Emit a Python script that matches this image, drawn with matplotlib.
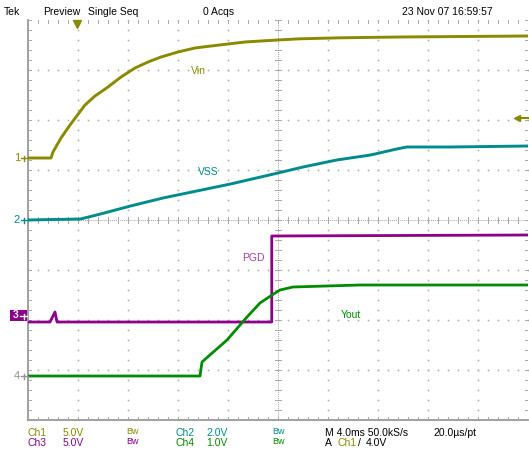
import matplotlib
matplotlib.use("Agg")
import matplotlib.pyplot as plt
from matplotlib.patches import Rectangle
import numpy as np

plt.rcParams['font.family'] = ['Liberation Sans Narrow', 'Liberation Sans', 'DejaVu Sans']

W, H = 529, 451

# screen: 10 div x 4 ms, 8 div vertical
MS_PER_DIV = 4.0

# channel settings (volts/div, ground position in div)
ch_scale = {1: 5.0, 2: 2.0, 3: 5.0, 4: 1.0}
ch_offset = {1: 1.24, 2: 0.0, 3: -2.04, 4: -3.12}
ch_color = {1: "#8a8a00", 2: "#008c8c", 3: "#8c008c", 4: "#008c00"}

# Ch1 - Vin
vin_t = [0, 1.84, 2.0, 2.64, 3.36, 3.84, 4.56, 5.36, 6.4, 7.44, 8.56, 9.6, 10.64,
         12.0, 13.36, 14.64, 16.0, 17.36, 18.64, 20.24, 21.76, 25.0, 29.76, 40.0]
vin_v = [0, 0, 0.6, 2.0, 3.3, 4.1, 5.3, 6.2, 7.1, 8.1, 9.0, 9.6, 10.1,
         10.6, 11.0, 11.2, 11.4, 11.6, 11.7, 11.82, 11.92, 12.02, 12.1, 12.2]

# Ch2 - VSS
vss_t = [0, 4.2, 5.8, 8.2, 10.8, 13.5, 16.2, 20.0, 22.0, 24.7, 27.4, 29.5, 30.3, 33.8, 40.0]
vss_v = [0, 0.04, 0.24, 0.56, 0.88, 1.16, 1.44, 1.88, 2.12, 2.4, 2.6, 2.84, 2.92, 2.92, 2.96]

# Ch3 - PGD
pgd_t = [0, 1.76, 2.16, 2.32, 19.5, 19.5, 40.0]
pgd_v = [0, 0, 1.0, 0, 0, 8.6, 8.7]

# Ch4 - Yout
yout_t = [0, 13.76, 13.92, 15.92, 17.52, 18.56, 19.52, 20.16, 21.2, 26.56, 40.0]
yout_v = [0, 0, 0.28, 0.72, 1.18, 1.46, 1.62, 1.72, 1.78, 1.82, 1.82]

trig_t = 3.92
trig_level = 4.0


def to_div(ch, volts):
    return ch_offset[ch] + np.asarray(volts) / ch_scale[ch]


fig = plt.figure(figsize=(W / 100, H / 100), dpi=100)
ax = fig.add_axes([28 / W, (H - 420) / H, 500 / W, 400 / H])
ax.set_xlim(0, 40)
ax.set_ylim(-4, 4)
ax.axis("off")

grid_c = "#a8a8a8"

# graticule dots on major lines
minor_y = np.arange(-4, 4.01, 0.2)
minor_x = np.arange(0, 40.01, 0.8)
for xm in np.arange(4, 40, 4):
    if xm == 20:
        continue
    ax.plot(np.full_like(minor_y, xm), minor_y, ls="none", marker="s", ms=1.1,
            mew=0, color=grid_c)
for ym in range(-3, 4):
    if ym == 0:
        continue
    ax.plot(minor_x, np.full_like(minor_x, ym), ls="none", marker="s", ms=1.1,
            mew=0, color=grid_c)

# center crosshair with ticks
ax.axvline(20, color=grid_c, lw=0.7, ls=(0, (1, 1)))
ax.axhline(0, color=grid_c, lw=0.7, ls=(0, (1, 1)))
for yy in minor_y:
    ax.plot([20 - 0.24, 20 + 0.24], [yy, yy], color=grid_c, lw=0.7)
for xx in minor_x:
    ax.plot([xx, xx], [-0.06, 0.06], color=grid_c, lw=0.7)

# edges
ax.plot([0, 0], [-4, 4], color="#909090", lw=1.2, clip_on=False)
ax.plot([0, 40], [-4, -4], color="#909090", lw=1.2, clip_on=False)
for yy in minor_y:
    ax.plot([0, 0.22], [yy, yy], color=grid_c, lw=0.7)
    ax.plot([39.78, 40], [yy, yy], color=grid_c, lw=0.7)
for xx in minor_x:
    ax.plot([xx, xx], [-4, -3.94], color=grid_c, lw=0.7)
    ax.plot([xx, xx], [3.94, 4], color=grid_c, lw=0.7)

# traces
ax.plot(vss_t, to_div(2, vss_v), color=ch_color[2], lw=2.1)
ax.plot(vin_t, to_div(1, vin_v), color=ch_color[1], lw=2.1)
ax.plot(pgd_t, to_div(3, pgd_v), color=ch_color[3], lw=2.0)
ax.plot(yout_t, to_div(4, yout_v), color=ch_color[4], lw=2.0)

# trace labels
lab_fs = 7.5
ax.text(13.0, 2.98, "Vin", color=ch_color[1], fontsize=lab_fs, va="center")
ax.text(13.6, 0.96, "VSS", color=ch_color[2], fontsize=lab_fs, va="center")
ax.text(17.1, -0.76, "PGD", color="#a040a0", fontsize=lab_fs, va="center")
ax.text(25.0, -1.9, "Yout", color=ch_color[4], fontsize=lab_fs, va="center")

# trigger position and level markers
ax.plot(trig_t, 3.93, marker="v", ms=6, color=ch_color[1], clip_on=False)
lvl = to_div(1, trig_level)
ax.plot([39.1, 40.1], [lvl, lvl], color=ch_color[1], lw=1.5, clip_on=False)
ax.plot(39.1, lvl, marker="<", ms=5, color=ch_color[1], clip_on=False)


# ground markers at the left edge
def px_x(px):
    return (px - 28) / 50 * MS_PER_DIV


for ch, txt_c in [(1, ch_color[1]), (2, ch_color[2]), (4, "#909090")]:
    g = ch_offset[ch]
    ax.text(px_x(17), g, str(ch), color=txt_c, fontsize=8, ha="center",
            va="center", clip_on=False)
    ax.plot([px_x(21), 0], [g, g], color=txt_c, lw=1.0, clip_on=False)
    ax.plot([px_x(24), px_x(24)], [g - 0.05, g + 0.05], color=txt_c, lw=1.0,
            clip_on=False)

# ch3 marker is a filled tag
fig.patches.append(Rectangle((10 / W, 1 - 321 / H), 17 / W, 11 / H,
                             transform=fig.transFigure, fc=ch_color[3], ec="none"))
fig.text(16 / W, 1 - 315.5 / H, "3", color="white", fontsize=7.5, fontweight="bold",
         ha="center", va="center")
fig.lines.append(plt.Line2D([20 / W, 27 / W], [1 - 316 / H, 1 - 316 / H],
                            transform=fig.transFigure, color="white", lw=1.0))
fig.lines.append(plt.Line2D([23.5 / W, 23.5 / W], [1 - 313.5 / H, 1 - 318.5 / H],
                            transform=fig.transFigure, color="white", lw=1.0))


# header and footer text
def ftext(x, y, s, color="black", size=7.5):
    fig.text(x / W, 1 - y / H, s, color=color, fontsize=size, va="center", ha="left")


ftext(4, 12, "Tek")
ftext(43, 12, "Preview")
ftext(88, 12, "Single Seq")
ftext(203, 12, "0 Acqs")
ftext(402, 12, "23 Nov 07 16:59:57")

r1, r2 = 433, 443
bw_fs = 6.5
ftext(27, r1, "Ch1", ch_color[1])
ftext(63, r1, "5.0V", ch_color[1])
ftext(126, r1 - 1, "Bw", ch_color[1], bw_fs)
ftext(175, r1, "Ch2", ch_color[2])
ftext(206, r1, "2.0V", ch_color[2])
ftext(272, r1 - 1, "Bw", ch_color[2], bw_fs)
ftext(325, r1, "M 4.0ms 50.0kS/s")
ftext(433, r1, "20.0\u00b5s/pt")

ftext(27, r2, "Ch3", ch_color[3])
ftext(63, r2, "5.0V", ch_color[3])
ftext(126, r2 - 1, "Bw", ch_color[3], bw_fs)
ftext(175, r2, "Ch4", ch_color[4])
ftext(206, r2, "1.0V", ch_color[4])
ftext(272, r2 - 1, "Bw", ch_color[4], bw_fs)
ftext(325, r2, "A")
ftext(338, r2, "Ch1", ch_color[1])
ftext(358, r2, "/")
ftext(366, r2, "4.0V")

fig.savefig("out.png", dpi=100)
